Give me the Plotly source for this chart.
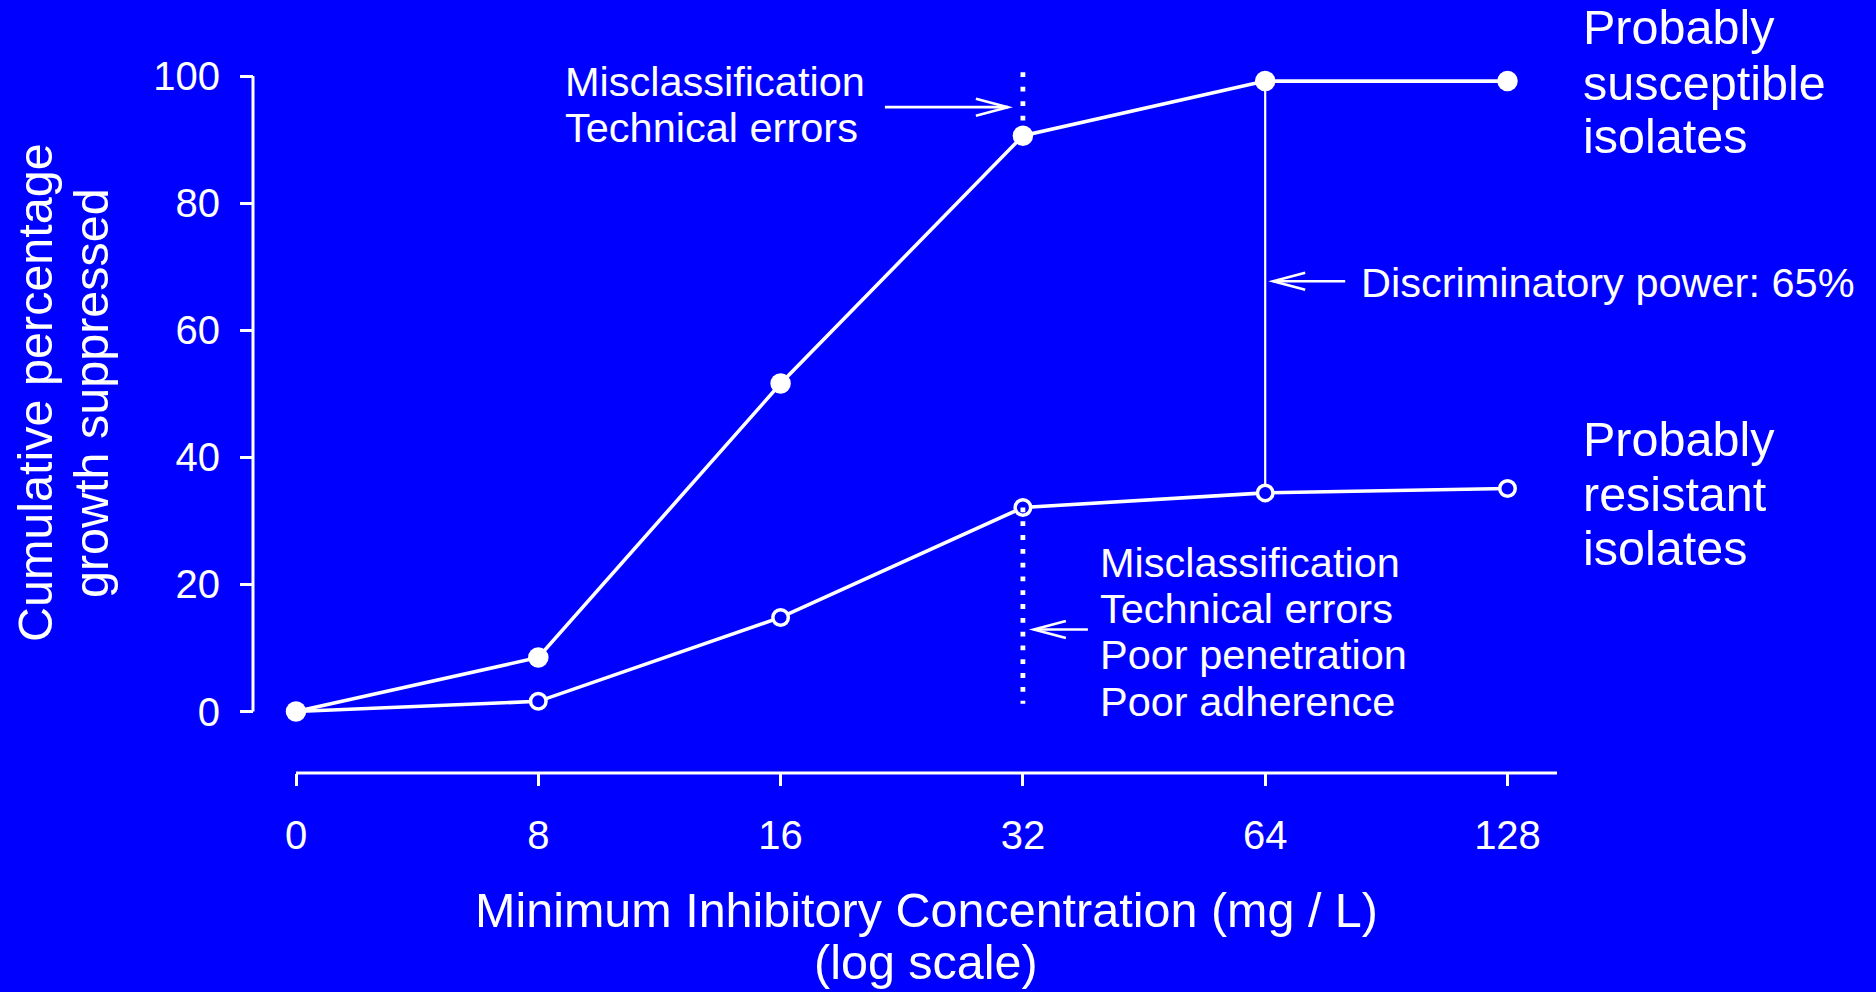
import plotly.graph_objects as go

# ---------------- data ----------------
mic_labels = ["0", "8", "16", "32", "64", "128"]
x_pos = list(range(len(mic_labels)))
susceptible = [0, 8.5, 51.6, 90.6, 99.2, 99.2]
resistant = [0, 1.6, 14.8, 32.1, 34.4, 35.1]
y_ticks = [0, 20, 40, 60, 80, 100]

dot_top = 100.6      # top of dotted line above MIC 32
dot_bottom = 1.2     # bottom of dotted line below MIC 32
arrow_top_y = 95.1
arrow_bottom_y = 12.9
arrow_disc_y = 67.7

# ---------------- layout constants ----------------
W, H = 1876, 992
BLUE = "#0000FF"
WHITE = "#FFFFFF"
FONT = "Liberation Sans, Arial, Helvetica, sans-serif"

# pixel mapping of axes (plot area = whole figure)
X0_PX, X_STEP = 296.0, 242.3
Y0_PX, Y_STEP = 711.5, 6.355
x_range = [(0 - X0_PX) / X_STEP, (W - X0_PX) / X_STEP]
y_range = [-(H - Y0_PX) / Y_STEP, Y0_PX / Y_STEP]

YAXIS_PX = 253
XAXIS_PY = 773
XLINE_END = (1557 - X0_PX) / X_STEP


def px(p):
    return p / W


def py(p):
    return 1 - p / H


fig = go.Figure()

# dotted line above MIC 32 (hidden under filled marker)
fig.add_trace(go.Scatter(
    x=[x_pos[3], x_pos[3]], y=[dot_top, susceptible[3]], mode="lines",
    line=dict(color=WHITE, width=4.8, dash="4.8px,9.7px"), hoverinfo="skip", showlegend=False))

# discriminatory power vertical line at MIC 64
fig.add_trace(go.Scatter(
    x=[x_pos[4], x_pos[4]], y=[susceptible[4], resistant[4]], mode="lines",
    line=dict(color=WHITE, width=2.2), hoverinfo="skip", showlegend=False))

# probably resistant (open circles)
fig.add_trace(go.Scatter(
    x=x_pos, y=resistant, mode="lines+markers",
    line=dict(color=WHITE, width=3.6),
    marker=dict(symbol="circle", size=15.5, color=BLUE, line=dict(color=WHITE, width=3.5)),
    hoverinfo="skip", showlegend=False, cliponaxis=False))

# probably susceptible (filled circles)
fig.add_trace(go.Scatter(
    x=x_pos, y=susceptible, mode="lines+markers",
    line=dict(color=WHITE, width=3.6),
    marker=dict(symbol="circle", size=20.5, color=WHITE),
    hoverinfo="skip", showlegend=False, cliponaxis=False))

# dotted line below MIC 32
fig.add_trace(go.Scatter(
    x=[x_pos[3], x_pos[3]], y=[resistant[3], dot_bottom], mode="lines",
    line=dict(color=WHITE, width=4.8, dash="4.8px,9px"), hoverinfo="skip", showlegend=False))

shapes = []
# axis lines (R style)
shapes.append(dict(type="line", xref="paper", yref="y", x0=px(YAXIS_PX), x1=px(YAXIS_PX),
                   y0=y_ticks[0], y1=y_ticks[-1], line=dict(color=WHITE, width=3)))
shapes.append(dict(type="line", xref="x", yref="paper", x0=x_pos[0], x1=XLINE_END,
                   y0=py(XAXIS_PY), y1=py(XAXIS_PY), line=dict(color=WHITE, width=3)))


def arrow(xa, ya, tip, tail, direction):
    """horizontal open arrow, pixel offsets relative to anchor (xa, ya)"""
    d = direction  # +1 pointing right, -1 pointing left
    head_back = tip - d * 32
    shapes.append(dict(type="path", xref="x", yref="y", xsizemode="pixel", ysizemode="pixel",
                       xanchor=xa, yanchor=ya,
                       path=f"M {tail},0 L {tip},0",
                       line=dict(color=WHITE, width=2.6)))
    shapes.append(dict(type="path", xref="x", yref="y", xsizemode="pixel", ysizemode="pixel",
                       xanchor=xa, yanchor=ya,
                       path=f"M {head_back},8.5 L {tip},0 L {head_back},-8.5",
                       line=dict(color=WHITE, width=2.6)))


arrow(x_pos[3], arrow_top_y, -15, -138, +1)
arrow(x_pos[3], arrow_bottom_y, 11, 65, -1)
arrow(x_pos[4], arrow_disc_y, 8, 80, -1)

annotations = []


def text(s, left_px, baseline_px, size, anchor="left"):
    annotations.append(dict(
        text=s, xref="paper", yref="paper", x=px(left_px), y=py(baseline_px - 0.35 * size),
        xanchor=anchor, yanchor="middle", showarrow=False,
        font=dict(family=FONT, size=size, color=WHITE)))


def vtext(s, baseline_x, center_y, size):
    annotations.append(dict(
        text=s, xref="paper", yref="paper", x=px(baseline_x - 0.35 * size), y=py(center_y),
        xanchor="center", yanchor="middle", showarrow=False, textangle=-90,
        font=dict(family=FONT, size=size, color=WHITE)))


FS_NOTE = 41.5
FS_BIG = 48.5

text("Misclassification", 563, 96, FS_NOTE)
text("Technical errors", 563, 142.3, FS_NOTE)

for s, b in zip(["Misclassification", "Technical errors", "Poor penetration", "Poor adherence"],
                [576.7, 623.3, 669, 716]):
    text(s, 1097.7, b, FS_NOTE)

text("Discriminatory power: 65%", 1358.6, 296.6, FS_NOTE)

for s, b in zip(["Probably", "susceptible", "isolates"], [44, 100.3, 153]):
    text(s, 1581, b, FS_BIG)
for s, b in zip(["Probably", "resistant", "isolates"], [456, 511, 564.5]):
    text(s, 1581, b, FS_BIG)

text("Minimum Inhibitory Concentration (mg / L)", 926, 927, FS_BIG, anchor="center")
text("(log scale)", 926, 979, FS_BIG, anchor="center")

vtext("Cumulative percentage", 52, 393, FS_BIG)
vtext("growth suppressed", 108, 393, FS_BIG)

fig.update_layout(
    width=W, height=H,
    margin=dict(l=0, r=0, t=0, b=0, pad=0),
    paper_bgcolor=BLUE, plot_bgcolor=BLUE,
    font=dict(family=FONT, color=WHITE),
    showlegend=False,
    shapes=shapes,
    annotations=annotations,
    xaxis=dict(
        range=x_range, domain=[0, 1], anchor="free", position=py(XAXIS_PY),
        tickmode="array", tickvals=x_pos, ticktext=mic_labels,
        ticks="outside", ticklen=12, tickwidth=3, tickcolor=WHITE,
        tickfont=dict(family=FONT, size=40, color=WHITE),
        ticklabelstandoff=15,
        showline=False, showgrid=False, zeroline=False, automargin=False, fixedrange=True),
    yaxis=dict(
        range=y_range, domain=[0, 1], anchor="free", position=px(YAXIS_PX),
        tickmode="array", tickvals=y_ticks, ticktext=[str(v) for v in y_ticks],
        ticks="outside", ticklen=13, tickwidth=3, tickcolor=WHITE,
        tickfont=dict(family=FONT, size=40, color=WHITE),
        ticklabelstandoff=12,
        showline=False, showgrid=False, zeroline=False, automargin=False, fixedrange=True),
)

fig.write_html(
    "out.html",
    config=dict(displayModeBar=False),
    post_script="document.body.style.margin='0';document.body.style.overflow='hidden';",
)
